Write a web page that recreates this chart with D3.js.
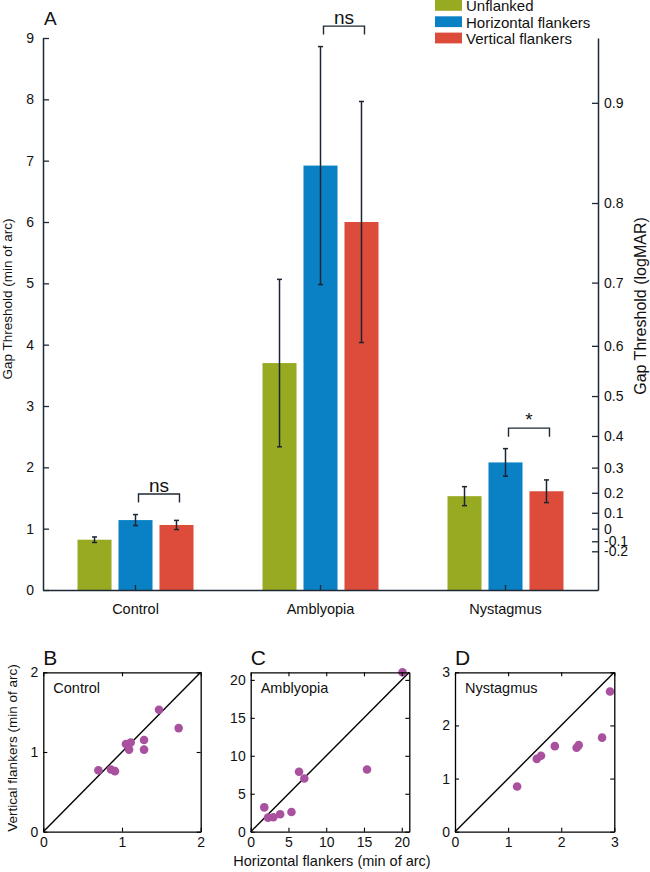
<!DOCTYPE html>
<html><head><meta charset="utf-8">
<script src="https://cdn.jsdelivr.net/npm/d3@7"></script>
<style>
body{margin:0;background:#fff;}
svg{display:block;font-family:"Liberation Sans",Arial,Helvetica,sans-serif;}
</style></head>
<body><svg id="chart" width="650" height="872"></svg>
<script>
// ---- Panel A data ----
const categories = ["Control", "Amblyopia", "Nystagmus"];
const seriesNames = ["Unflanked", "Horizontal flankers", "Vertical flankers"];
const unflanked = [0.82, 3.70, 1.53];
const unflankedErr = [0.045, 1.365, 0.155];
const horizontal = [1.14, 6.92, 2.08];
const horizontalErr = [0.09, 1.94, 0.225];
const vertical = [1.06, 6.00, 1.61];
const verticalErr = [0.075, 1.965, 0.185];
const leftTicks = [0, 1, 2, 3, 4, 5, 6, 7, 8, 9];
const logMARTicks = [-0.2, -0.1, 0, 0.1, 0.2, 0.3, 0.4, 0.5, 0.6, 0.7, 0.8, 0.9];
const sigLabels = ["ns", "ns", "*"];
const seriesColors = ["#98aa22", "#0a80c5", "#dd4b3b"];

// ---- Scatter data (horizontal vs vertical flankers, min of arc) ----
const controlH = [0.70, 0.86, 0.91, 1.05, 1.11, 1.09, 1.28, 1.28, 1.47, 1.72];
const controlV = [0.77, 0.78, 0.76, 1.10, 1.12, 1.03, 1.15, 1.03, 1.53, 1.30];
const amblyH = [1.8, 2.3, 3.0, 3.9, 5.4, 6.4, 7.1, 15.4, 20.1];
const amblyV = [3.2, 1.85, 1.9, 2.3, 2.6, 7.9, 7.0, 8.2, 21.0];
const nystH = [1.17, 1.54, 1.62, 1.88, 2.29, 2.33, 2.77, 2.92];
const nystV = [0.85, 1.37, 1.43, 1.61, 1.58, 1.63, 1.77, 2.64];
const scatterTicksB = [0, 1, 2];
const scatterTicksC = [0, 5, 10, 15, 20];
const scatterTicksD = [0, 1, 2, 3];

const svg = d3.select("#chart");
const axisColor = "#1e2835";
const errColor = "#1b2533";

// ---------- Panel A ----------
const y = d3.scaleLinear().domain([0, 9]).range([590, 38]);
const x0 = d3.scaleBand().domain(categories).range([43, 598]).padding(0);
const groupHalf = 58;
const x1 = d3.scaleBand().domain(seriesNames)
  .range([x0.bandwidth() / 2 - groupHalf, x0.bandwidth() / 2 + groupHalf])
  .paddingInner(0.17).paddingOuter(0);

const means = [unflanked, horizontal, vertical];
const errs = [unflankedErr, horizontalErr, verticalErr];
const barData = [];
categories.forEach((c, ci) => {
  seriesNames.forEach((s, si) => {
    barData.push({cat: c, ci, s, si, v: means[si][ci], e: errs[si][ci]});
  });
});

const gA = svg.append("g");
gA.selectAll("rect.bar").data(barData).enter().append("rect")
  .attr("class", "bar")
  .attr("x", d => x0(d.cat) + x1(d.s))
  .attr("y", d => y(d.v))
  .attr("width", x1.bandwidth())
  .attr("height", d => y(0) - y(d.v))
  .attr("fill", d => seriesColors[d.si]);

// error bars
const eb = gA.selectAll("g.err").data(barData).enter().append("g").attr("class", "err")
  .attr("stroke", errColor).attr("stroke-width", 1.5).attr("fill", "none");
const cx = d => x0(d.cat) + x1(d.s) + x1.bandwidth() / 2;
eb.append("line").attr("x1", cx).attr("x2", cx)
  .attr("y1", d => y(d.v - d.e)).attr("y2", d => y(d.v + d.e));
eb.append("line").attr("x1", d => cx(d) - 2.5).attr("x2", d => cx(d) + 2.5)
  .attr("y1", d => y(d.v - d.e)).attr("y2", d => y(d.v - d.e));
eb.append("line").attr("x1", d => cx(d) - 2.5).attr("x2", d => cx(d) + 2.5)
  .attr("y1", d => y(d.v + d.e)).attr("y2", d => y(d.v + d.e));

// significance brackets (between horizontal & vertical flankers)
categories.forEach((c, ci) => {
  const xa = x0(c) + x1(seriesNames[1]) + x1.bandwidth() / 2 + 3;
  const xb = x0(c) + x1(seriesNames[2]) + x1.bandwidth() / 2 + 3;
  const top = Math.min(y(horizontal[ci] + horizontalErr[ci]), y(vertical[ci] + verticalErr[ci]));
  const yEnd = top - 12, yBar = yEnd - 8.5;
  gA.append("path")
    .attr("d", `M${xa},${yEnd}V${yBar}H${xb}V${yEnd}`)
    .attr("fill", "none").attr("stroke", axisColor).attr("stroke-width", 1.4);
  gA.append("text").attr("x", (xa + xb) / 2).attr("y", yBar - 2.5)
    .attr("text-anchor", "middle").attr("font-size", 19).attr("fill", "#111")
    .text(sigLabels[ci]);
});

function styleAxis(g) {
  g.selectAll("path.domain").attr("stroke", axisColor).attr("stroke-width", 1.5);
  g.selectAll(".tick line").attr("stroke", axisColor).attr("stroke-width", 1.3);
  g.selectAll(".tick text").attr("fill", "#111").attr("font-family", "Liberation Sans, Arial, sans-serif");
}

// left axis
const gLeft = gA.append("g").attr("transform", "translate(43,0)")
  .call(d3.axisLeft(y).tickValues(leftTicks).tickFormat(d3.format("d"))
    .tickSizeInner(-6).tickSizeOuter(0).tickPadding(9));
gLeft.selectAll(".tick text").attr("font-size", 14);
styleAxis(gLeft);

// right axis (logMAR), positioned through the same scale
const fmtLog = v => v === 0 ? "0" : (v < 0 ? "-" : "") + Math.abs(v).toFixed(1);
const gRight = gA.append("g").attr("transform", "translate(598,0)")
  .call(d3.axisRight(y).tickValues(logMARTicks.map(v => Math.pow(10, v)))
    .tickFormat((d, i) => fmtLog(logMARTicks[i]))
    .tickSizeInner(-6).tickSizeOuter(0).tickPadding(6));
gRight.selectAll(".tick text").attr("font-size", 14);
styleAxis(gRight);

// bottom axis
const gBottom = gA.append("g").attr("transform", "translate(0,590)")
  .call(d3.axisBottom(x0).tickSizeInner(-5).tickSizeOuter(0).tickPadding(14));
gBottom.selectAll(".tick text").attr("font-size", 14.5);
styleAxis(gBottom);

// axis titles
gA.append("text").attr("transform", "translate(12,299) rotate(-90)")
  .attr("text-anchor", "middle").attr("font-size", 13.5).attr("fill", "#111")
  .text("Gap Threshold (min of arc)");
gA.append("text").attr("transform", "translate(646,306) rotate(-90)")
  .attr("text-anchor", "middle").attr("font-size", 16).attr("fill", "#111")
  .text("Gap Threshold (logMAR)");

// panel letter
gA.append("text").attr("x", 44).attr("y", 25).attr("font-size", 19).attr("fill", "#111").text("A");

// legend
const leg = gA.append("g");
seriesNames.forEach((s, i) => {
  leg.append("rect").attr("x", 435).attr("y", 0 + i * 16.3).attr("width", 27).attr("height", 10.8)
    .attr("fill", seriesColors[i]);
  leg.append("text").attr("x", 466).attr("y", 11.3 + i * 16.3).attr("font-size", 15).attr("fill", "#111").text(s);
});

// ---------- Panels B, C, D ----------
const panels = [
  {letter: "B", name: "Control", hx: controlH, vy: controlV, max: 2, ticks: scatterTicksB, left: 43.3, right: 200.7},
  {letter: "C", name: "Amblyopia", hx: amblyH, vy: amblyV, max: 21, ticks: scatterTicksC, left: 250.7, right: 409.3},
  {letter: "D", name: "Nystagmus", hx: nystH, vy: nystV, max: 3, ticks: scatterTicksD, left: 455, right: 614.3}
];
const pTop = 672.3, pBottom = 831.7;

panels.forEach(p => {
  const sx = d3.scaleLinear().domain([0, p.max]).range([p.left, p.right]);
  const sy = d3.scaleLinear().domain([0, p.max]).range([pBottom, pTop]);
  const g = svg.append("g");
  // diagonal
  g.append("line").attr("x1", sx(0)).attr("y1", sy(0)).attr("x2", sx(p.max)).attr("y2", sy(p.max))
    .attr("stroke", "#000").attr("stroke-width", 1.4);
  // points
  g.selectAll("circle").data(p.hx.map((h, i) => [h, p.vy[i]])).enter().append("circle")
    .attr("cx", d => sx(d[0])).attr("cy", d => sy(d[1])).attr("r", 4.3)
    .attr("fill", "#a9509f");
  // axes (box with inward ticks)
  const ab = g.append("g").attr("transform", `translate(0,${pBottom})`)
    .call(d3.axisBottom(sx).tickValues(p.ticks).tickFormat(d3.format("d")).tickSizeInner(-4).tickSizeOuter(0).tickPadding(5));
  const at = g.append("g").attr("transform", `translate(0,${pTop})`)
    .call(d3.axisTop(sx).tickValues(p.ticks).tickFormat("").tickSizeInner(-4).tickSizeOuter(0));
  const al = g.append("g").attr("transform", `translate(${p.left},0)`)
    .call(d3.axisLeft(sy).tickValues(p.ticks).tickFormat(d3.format("d")).tickSizeInner(-4).tickSizeOuter(0).tickPadding(5));
  const ar = g.append("g").attr("transform", `translate(${p.right},0)`)
    .call(d3.axisRight(sy).tickValues(p.ticks).tickFormat("").tickSizeInner(-4).tickSizeOuter(0));
  [ab, at, al, ar].forEach(a => {
    a.selectAll("path.domain").attr("stroke", "#000").attr("stroke-width", 1.3);
    a.selectAll(".tick line").attr("stroke", "#000").attr("stroke-width", 1.1);
    a.selectAll(".tick text").attr("font-size", 14).attr("fill", "#111");
  });
  g.append("text").attr("x", p.left + 10).attr("y", 693).attr("font-size", 14.5).attr("fill", "#111").text(p.name);
  g.append("text").attr("x", p.left).attr("y", 665).attr("font-size", 21).attr("fill", "#111").text(p.letter);
});

svg.append("text").attr("transform", "translate(17,748) rotate(-90)")
  .attr("text-anchor", "middle").attr("font-size", 13.5).attr("fill", "#111")
  .text("Vertical flankers (min of arc)");
svg.append("text").attr("x", 332).attr("y", 866)
  .attr("text-anchor", "middle").attr("font-size", 14.5).attr("fill", "#111")
  .text("Horizontal flankers (min of arc)");
</script></body></html>
